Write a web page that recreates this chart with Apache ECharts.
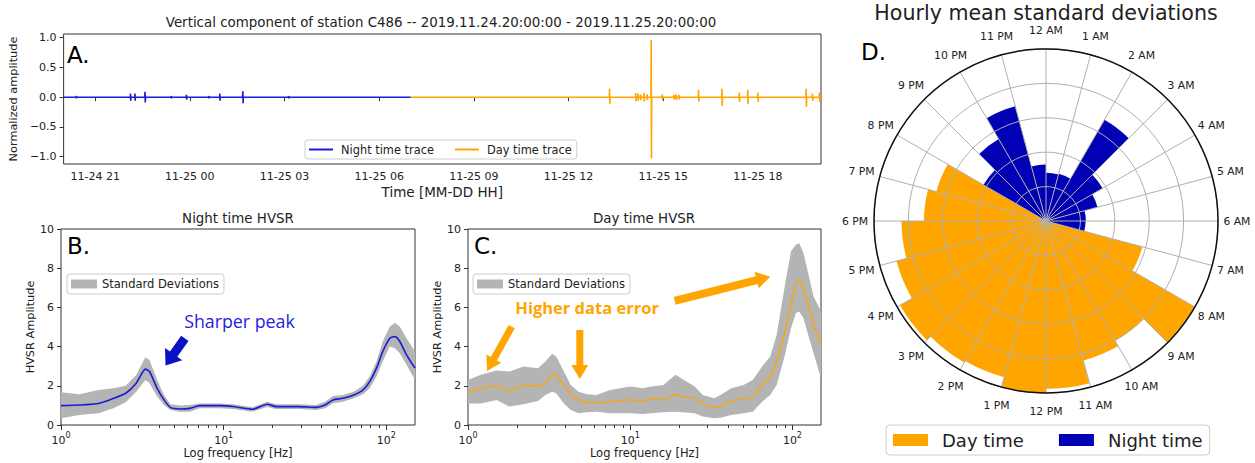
<!DOCTYPE html>
<html>
<head>
<meta charset="utf-8">
<script src="https://cdn.jsdelivr.net/npm/echarts@6/dist/echarts.min.js"></script>
<style>
  html, body { margin: 0; padding: 0; background: #fff; }
  #chart { width: 1255px; height: 463px; }
</style>
</head>
<body>
<div id="chart"></div>
<script>
// ---- A. seismic trace: spikes as [hour since 11-24 00:00, peak up, peak down] ----
const nightSpan = [20, 31];
const daySpan = [31, 44];
const nightSpikes = [
  [20.40, 0.02, 0.02], [22.12, 0.06, 0.06], [22.26, 0.06, 0.06], [22.58, 0.09, 0.09],
  [23.41, 0.02, 0.02], [23.89, 0.04, 0.04], [24.60, 0.02, 0.02], [24.95, 0.06, 0.06],
  [25.68, 0.10, 0.10], [27.13, 0.02, 0.02]
];
const daySpikes = [
  [37.30, 0.14, 0.12], [38.13, 0.07, 0.07], [38.20, 0.06, 0.06], [38.28, 0.05, 0.05],
  [38.39, 0.07, 0.07], [38.49, 0.05, 0.05], [38.62, 0.96, 1.03], [38.97, 0.05, 0.05],
  [39.34, 0.04, 0.04], [39.41, 0.05, 0.05], [39.50, 0.04, 0.04], [40.12, 0.12, 0.07],
  [40.86, 0.14, 0.15], [41.41, 0.08, 0.08], [41.68, 0.12, 0.12], [42.00, 0.08, 0.08],
  [43.53, 0.14, 0.16], [43.73, 0.06, 0.06], [43.95, 0.08, 0.08]
];
const timeTicks = [21, 24, 27, 30, 33, 36, 39, 42];
const ampTicks = [-1, -0.5, 0, 0.5, 1];

// ---- B. night time HVSR ----
const nightFreq  = [1, 1.3, 1.7, 2.1, 2.5, 2.9, 3.3, 3.5, 3.9, 4.3, 4.7, 5.4, 6.2, 7.1, 9.5, 11.4, 15, 18.5, 21, 29, 37, 42, 47, 54, 63, 72, 79, 87, 95, 105, 113, 121, 133, 150];
const nightMean  = [0.99, 1.02, 1.10, 1.36, 1.62, 2.13, 2.85, 2.73, 1.87, 1.28, 0.90, 0.82, 0.85, 0.99, 0.99, 0.94, 0.80, 1.06, 0.94, 0.94, 0.90, 1.02, 1.28, 1.36, 1.53, 1.79, 2.21, 2.90, 3.75, 4.43, 4.51, 4.26, 3.58, 2.90];
const nightUpper = [1.67, 1.57, 1.79, 1.87, 2.00, 2.55, 3.46, 3.32, 2.30, 1.53, 1.06, 0.99, 1.02, 1.10, 1.10, 1.06, 0.90, 1.19, 1.06, 1.06, 1.02, 1.19, 1.48, 1.53, 1.70, 2.01, 2.47, 3.24, 4.26, 5.03, 5.20, 5.03, 4.43, 3.75];
const nightLower = [0.34, 0.51, 0.60, 0.85, 1.16, 1.70, 2.30, 2.13, 1.45, 1.02, 0.77, 0.68, 0.68, 0.85, 0.85, 0.82, 0.68, 0.92, 0.82, 0.82, 0.77, 0.85, 1.11, 1.19, 1.36, 1.57, 1.87, 2.47, 3.24, 4.00, 3.92, 3.66, 3.07, 2.30];

// ---- C. day time HVSR ----
const dayFreq  = [1, 1.2, 1.5, 1.8, 2.2, 2.7, 3.0, 3.3, 3.5, 3.9, 4.3, 4.8, 5.4, 6.2, 7.5, 10, 12, 13.5, 16, 19, 21, 25, 28, 33, 36, 42, 50, 57, 65, 73, 80, 90, 98, 105, 110, 117, 125, 135, 150];
const dayMean  = [1.67, 1.87, 2.01, 1.74, 2.01, 1.99, 2.13, 2.56, 2.52, 2.04, 1.57, 1.28, 1.16, 1.14, 1.19, 1.28, 1.24, 1.33, 1.28, 1.57, 1.45, 1.36, 1.11, 0.90, 0.94, 1.23, 1.33, 1.45, 2.04, 2.47, 3.24, 4.77, 6.13, 7.19, 7.41, 6.98, 6.05, 5.11, 4.09];
const dayUpper = [2.30, 2.56, 2.78, 2.73, 2.98, 2.90, 3.24, 3.63, 3.49, 2.73, 2.04, 1.70, 1.57, 1.53, 1.79, 1.96, 1.87, 1.96, 2.04, 2.56, 2.35, 1.96, 1.53, 1.36, 1.53, 1.87, 2.04, 2.30, 2.98, 3.49, 4.60, 7.16, 8.86, 9.20, 9.28, 8.77, 7.75, 6.56, 5.79];
const dayLower = [1.10, 1.10, 1.28, 0.94, 1.06, 1.23, 1.53, 1.70, 1.62, 1.10, 0.77, 0.60, 0.65, 0.68, 0.60, 0.60, 0.56, 0.60, 0.65, 0.68, 0.65, 0.60, 0.43, 0.34, 0.37, 0.51, 0.60, 0.68, 1.19, 1.53, 2.04, 3.58, 4.94, 5.71, 5.79, 5.45, 4.60, 3.66, 2.39];
const freqMajor = [1, 10, 100];
const freqMinor = [2, 3, 4, 5, 6, 7, 8, 9, 20, 30, 40, 50, 60, 70, 80, 90];

// ---- D. hourly mean standard deviations (hour 0 = 12 AM) ----
const hourLabels = ['12 AM', '1 AM', '2 AM', '3 AM', '4 AM', '5 AM', '6 AM', '7 AM', '8 AM', '9 AM', '10 AM', '11 AM',
                    '12 PM', '1 PM', '2 PM', '3 PM', '4 PM', '5 PM', '6 PM', '7 PM', '8 PM', '9 PM', '10 PM', '11 PM'];
const dayStd   = ['-', '-', '-', '-', '-', '-', '-', 2.90, 4.98, 4.03, 4.20, 4.88, 5.00, 4.70, 4.75, 4.90, 4.50, 4.20, 3.55, 3.30, '-', '-', '-', '-'];
const nightStd = [1.40, 1.42, 3.40, 1.90, 1.55, 1.16, 1.15, '-', '-', '-', '-', '-', '-', '-', '-', '-', '-', '-', '-', '-', 2.10, 2.75, 3.45, 1.64];
const radialMax = 5;

// ---- annotation arrows in HVSR data space: [tail, tip] as [freq, amplitude] ----
const nightArrows = [[[5.77, 4.42], [4.39, 3.03]]];
const dayArrows = [
  [[1.86, 5.02], [1.31, 2.76]],
  [[4.89, 4.85], [4.89, 2.35]],
  [[18.8, 6.33], [73, 7.57]]
];

const BLUE = '#1a1ad8';
const DARK_BLUE = '#0000b4';
const ORANGE = '#ffa500';
const BAND = '#b4b4b4';
const TXT = '#222';
const FONT = 'DejaVu Sans';

function buildTrace(span, spikes) {
  const pts = [[span[0], 0]];
  spikes.forEach(([t, up, down]) => {
    pts.push([t - 0.008, 0], [t, up], [t + 0.008, -down], [t + 0.016, 0]);
  });
  pts.push([span[1], 0]);
  return pts;
}
const zip = (xs, ys) => xs.map((x, i) => [x, ys[i]]);

function timeLabel(h) {
  const day = 24 + Math.floor(h / 24);
  const hh = h % 24;
  return '11-' + day + ' ' + String(hh).padStart(2, '0');
}

const logLabel = {
  customValues: freqMajor,
  formatter: v => '{b|10}{s|' + Math.round(Math.log10(v)) + '}',
  margin: 6,
  rich: {
    b: { fontSize: 11, color: TXT, fontFamily: FONT, verticalAlign: 'bottom', lineHeight: 15 },
    s: { fontSize: 8, color: TXT, fontFamily: FONT, verticalAlign: 'top', lineHeight: 9 }
  }
};

function hvsrAxes(gridIndex) {
  return [
    {
      gridIndex, type: 'log', logBase: 10, min: 1, max: 150, position: 'bottom',
      axisLine: { show: false },
      axisTick: { customValues: freqMajor, length: 5, lineStyle: { color: '#333' } },
      axisLabel: logLabel,
      splitLine: { show: false },
      name: 'Log frequency [Hz]', nameLocation: 'middle', nameGap: 21,
      nameTextStyle: { fontSize: 11.5, color: TXT }
    },
    {
      gridIndex, type: 'log', logBase: 10, min: 1, max: 150, position: 'bottom',
      axisLine: { show: false },
      axisTick: { customValues: freqMinor, length: 3, lineStyle: { color: '#333' } },
      axisLabel: { show: false },
      splitLine: { show: false }
    }
  ];
}

function hvsrYAxis(gridIndex, gap) {
  return {
    gridIndex, type: 'value', min: 0, max: 10, interval: 2,
    axisLine: { show: false },
    axisTick: { show: true, length: 4, lineStyle: { color: '#333' } },
    axisLabel: { fontSize: 11, color: TXT, margin: 7 },
    splitLine: { show: false },
    name: 'HVSR Amplitude', nameLocation: 'middle', nameGap: gap,
    nameTextStyle: { fontSize: 11.3, color: TXT }
  };
}

// Standard-deviation band as one filled polygon between the upper and lower curves,
// plus the mean curve on top.
function hvsrSeries(tag, xIdx, yIdx, freq, mean, upper, lower, color, lineW) {
  return [
    {
      name: 'Standard Deviations', type: 'custom', xAxisIndex: xIdx, yAxisIndex: yIdx,
      silent: true, z: 2, itemStyle: { color: BAND },
      data: [[freq[0], lower[0]]], encode: { x: 0, y: 1 },
      renderItem: (params, api) => {
        if (params.dataIndex !== 0) return null;
        const top = freq.map((f, i) => api.coord([f, upper[i]]));
        const bottom = freq.map((f, i) => api.coord([f, lower[i]])).reverse();
        return { type: 'polygon', shape: { points: top.concat(bottom) }, style: { fill: BAND } };
      }
    },
    {
      name: 'mean-' + tag, type: 'line', xAxisIndex: xIdx, yAxisIndex: yIdx, symbol: 'none',
      smooth: 0.2, silent: true, z: 4, data: zip(freq, mean),
      lineStyle: { color, width: lineW }, itemStyle: { color }
    }
  ];
}

const boxLegend = {
  backgroundColor: 'rgba(255,255,255,0.8)', borderColor: '#cccccc', borderWidth: 1, borderRadius: 3
};

const chart = echarts.init(document.getElementById('chart'), null, { renderer: 'svg' });

const option = {
  animation: false,
  textStyle: { fontFamily: FONT, color: TXT },
  grid: [
    { left: 61, top: 34, width: 760, height: 130, show: true, borderColor: '#333', borderWidth: 1, backgroundColor: 'transparent' },
    { left: 61, top: 229, width: 354, height: 196, show: true, borderColor: '#333', borderWidth: 1, backgroundColor: 'transparent' },
    { left: 468, top: 229, width: 353, height: 196, show: true, borderColor: '#333', borderWidth: 1, backgroundColor: 'transparent' }
  ],
  xAxis: [
    {
      gridIndex: 0, type: 'value', min: 20, max: 44,
      axisLine: { show: false },
      axisTick: { customValues: timeTicks, length: 4, lineStyle: { color: '#333' } },
      axisLabel: { customValues: timeTicks, formatter: timeLabel, fontSize: 11, color: TXT, margin: 7 },
      splitLine: { show: false },
      name: 'Time [MM-DD HH]', nameLocation: 'middle', nameGap: 21,
      nameTextStyle: { fontSize: 13.5, color: TXT }
    },
    ...hvsrAxes(1),
    ...hvsrAxes(2)
  ],
  yAxis: [
    {
      gridIndex: 0, type: 'value', min: -1.123, max: 1.062,
      axisLine: { show: false },
      axisTick: { customValues: ampTicks, length: 4, lineStyle: { color: '#333' } },
      axisLabel: {
        customValues: ampTicks, fontSize: 11, color: TXT, margin: 7,
        formatter: v => (v < 0 ? '\u2212' : '') + Math.abs(v).toFixed(1)
      },
      splitLine: { show: false },
      name: 'Normalized amplitude', nameLocation: 'middle', nameGap: 38,
      nameTextStyle: { fontSize: 11.3, color: TXT }
    },
    hvsrYAxis(1, 25),
    hvsrYAxis(2, 24)
  ],
  polar: [
    { center: [1046, 221], radius: 172 },
    { center: [1046, 221], radius: 172 }
  ],
  angleAxis: [
    {
      polarIndex: 0, type: 'category', data: hourLabels, startAngle: 90, clockwise: true,
      boundaryGap: true, show: false
    },
    {
      polarIndex: 1, type: 'value', min: 0, max: 24, interval: 1, startAngle: 90, clockwise: true,
      z: 11,
      axisLine: { show: true, lineStyle: { color: '#111', width: 1.5 } },
      axisTick: { show: false },
      axisLabel: { show: false },
      splitLine: { show: true, lineStyle: { color: '#b0b0b0', width: 1 } }
    }
  ],
  radiusAxis: [
    { polarIndex: 0, type: 'value', min: 0, max: radialMax, show: false },
    {
      polarIndex: 1, type: 'value', min: 0, max: radialMax, interval: 1, z: 10,
      axisLine: { show: false }, axisTick: { show: false }, axisLabel: { show: false },
      splitLine: { show: true, lineStyle: { color: '#b0b0b0', width: 1 } }
    }
  ],
  legend: [
    Object.assign({}, boxLegend, {
      left: 305, top: 140, itemWidth: 24, itemHeight: 2, itemGap: 21,
      padding: [4, 5, 4, 4],
      textStyle: { fontSize: 11.4, color: TXT, padding: [0, 0, 0, 3] },
      data: [{ name: 'Night time trace', icon: 'rect' }, { name: 'Day time trace', icon: 'rect' }]
    }),
    Object.assign({}, boxLegend, {
      left: 67, top: 274, itemWidth: 26, itemHeight: 9, padding: [4, 5, 4, 4],
      textStyle: { fontSize: 11.5, color: TXT },
      data: [{ name: 'Standard Deviations', icon: 'rect', itemStyle: { color: BAND } }]
    }),
    Object.assign({}, boxLegend, {
      left: 473, top: 274, itemWidth: 26, itemHeight: 9, padding: [4, 5, 4, 4],
      textStyle: { fontSize: 11.5, color: TXT },
      data: [{ name: 'Standard Deviations', icon: 'rect', itemStyle: { color: BAND } }]
    }),
    Object.assign({}, boxLegend, {
      left: 886, top: 425, itemWidth: 35, itemHeight: 12, itemGap: 35, borderRadius: 4,
      padding: [6, 7, 6, 7],
      textStyle: { fontSize: 18, color: TXT, padding: [0, 0, 0, 9] },
      data: [{ name: 'Day time', icon: 'rect' }, { name: 'Night time', icon: 'rect' }]
    })
  ],
  series: [
    {
      name: 'Night time trace', type: 'line', xAxisIndex: 0, yAxisIndex: 0, symbol: 'none',
      data: buildTrace(nightSpan, nightSpikes),
      lineStyle: { color: BLUE, width: 1.6 }, itemStyle: { color: BLUE }
    },
    {
      name: 'Day time trace', type: 'line', xAxisIndex: 0, yAxisIndex: 0, symbol: 'none',
      data: buildTrace(daySpan, daySpikes),
      lineStyle: { color: ORANGE, width: 1.6 }, itemStyle: { color: ORANGE }
    },
    ...hvsrSeries('night', 1, 1, nightFreq, nightMean, nightUpper, nightLower, BLUE, 1.6),
    ...hvsrSeries('day', 3, 2, dayFreq, dayMean, dayUpper, dayLower, ORANGE, 1.3),
    {
      name: 'Day time', type: 'bar', coordinateSystem: 'polar', polarIndex: 0,
      data: dayStd, barCategoryGap: '0%', barGap: '-100%', itemStyle: { color: ORANGE }
    },
    {
      name: 'Night time', type: 'bar', coordinateSystem: 'polar', polarIndex: 0,
      data: nightStd, barCategoryGap: '0%', barGap: '-100%', itemStyle: { color: DARK_BLUE }
    }
  ]
};

chart.setOption(option);

// ---- annotations: panel letters, titles, hour labels, arrows and callouts ----
function arrowPoints(tail, tip, shaftW, headW, headL) {
  const dx = tip[0] - tail[0], dy = tip[1] - tail[1];
  const len = Math.hypot(dx, dy);
  const ux = dx / len, uy = dy / len, nx = -uy, ny = ux;
  const bx = tip[0] - ux * headL, by = tip[1] - uy * headL;
  return [
    [tail[0] + nx * shaftW / 2, tail[1] + ny * shaftW / 2],
    [bx + nx * shaftW / 2, by + ny * shaftW / 2],
    [bx + nx * headW / 2, by + ny * headW / 2],
    tip,
    [bx - nx * headW / 2, by - ny * headW / 2],
    [bx - nx * shaftW / 2, by - ny * shaftW / 2],
    [tail[0] - nx * shaftW / 2, tail[1] - ny * shaftW / 2]
  ];
}

function text(x, y, str, font, fill, align, vAlign) {
  return {
    type: 'text', x, y, z: 100,
    style: { text: str, font, fill, textAlign: align || 'left', textVerticalAlign: vAlign || 'top' }
  };
}

const finderB = { xAxisIndex: 1, yAxisIndex: 1 };
const finderC = { xAxisIndex: 3, yAxisIndex: 2 };
const px = (finder, p) => chart.convertToPixel(finder, p);

const graphics = [
  text(441, 22, 'Vertical component of station C486 -- 2019.11.24.20:00:00 - 2019.11.25.20:00:00', '13.4px DejaVu Sans', TXT, 'center', 'middle'),
  text(238, 218, 'Night time HVSR', '13.4px DejaVu Sans', TXT, 'center', 'middle'),
  text(644, 218, 'Day time HVSR', '13.4px DejaVu Sans', TXT, 'center', 'middle'),
  text(1046, 13, 'Hourly mean standard deviations', '20.6px DejaVu Sans', TXT, 'center', 'middle'),
  text(67, 43, 'A.', '23px DejaVu Sans', '#000'),
  text(67, 234, 'B.', '23px DejaVu Sans', '#000'),
  text(474, 234, 'C.', '23px DejaVu Sans', '#000'),
  text(861, 40, 'D.', '23px DejaVu Sans', '#000')
];

// hour labels centred just outside the outer ring of the polar grid
hourLabels.forEach((lab, h) => {
  const p = chart.convertToPixel({ polarIndex: 1 }, [radialMax * 1.11, h]);
  graphics.push(text(p[0], p[1], lab, '10.8px DejaVu Sans', TXT, 'center', 'middle'));
});

nightArrows.forEach(([tail, tip]) => {
  graphics.push({ type: 'polygon', z: 100, shape: { points: arrowPoints(px(finderB, tail), px(finderB, tip), 9, 21, 14) }, style: { fill: '#0a10c8' } });
});
dayArrows.forEach(([tail, tip], i) => {
  const shaft = i === 2 ? 8 : 7;
  graphics.push({ type: 'polygon', z: 100, shape: { points: arrowPoints(px(finderC, tail), px(finderC, tip), shaft, 17, 14) }, style: { fill: ORANGE } });
});
const sharpAt = px(finderB, [12.5, 5.3]);
graphics.push(text(sharpAt[0], sharpAt[1], 'Sharper peak', '17.8px Open Sans', '#1f22e0', 'center', 'middle'));
const errAt = px(finderC, [5.42, 5.97]);
graphics.push(text(errAt[0], errAt[1], 'Higher data error', 'bold 16.5px Open Sans', ORANGE, 'center', 'middle'));

chart.setOption({ graphic: { elements: graphics } });
</script>
</body>
</html>
